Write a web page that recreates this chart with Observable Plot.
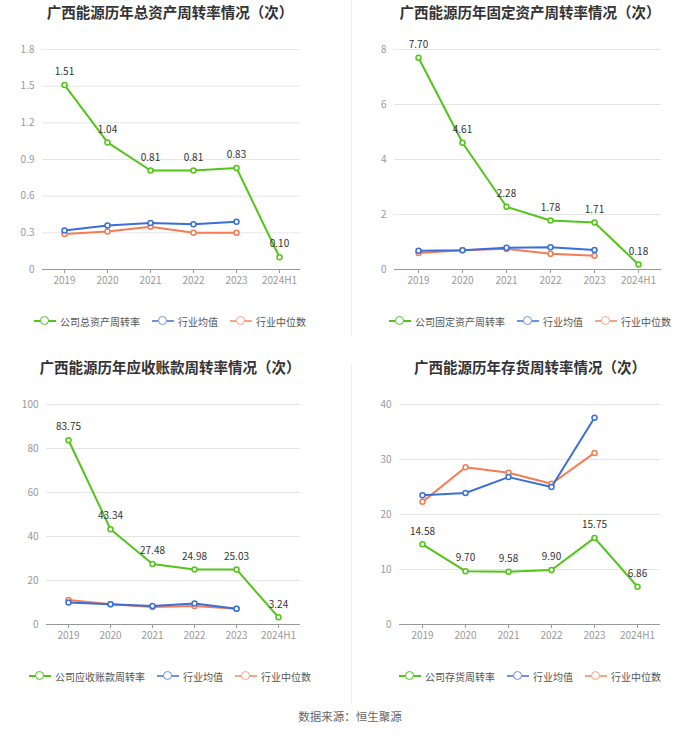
<!DOCTYPE html>
<html><head><meta charset="utf-8">
<script src="https://cdn.jsdelivr.net/npm/d3@7"></script>
<script src="https://cdn.jsdelivr.net/npm/@observablehq/plot@0.6"></script>
<style>
body{margin:0;background:#fff;font-family:"Noto Sans CJK SC","Noto Sans",sans-serif;}
#root{position:relative;width:700px;height:734px;overflow:hidden;}
.panel{position:absolute;width:340px;height:340px;}
.title{position:absolute;left:0;top:0;width:340px;height:24px;line-height:24px;text-align:center;font-size:14.5px;font-weight:bold;color:#333;white-space:nowrap;}
.chart{position:absolute;left:0;top:30px;}
.legend{position:absolute;left:0;top:313px;width:340px;height:16px;display:flex;justify-content:center;align-items:center;font-size:10px;color:#555;white-space:nowrap;}
.item{display:flex;align-items:center;margin:0 6px;}
.icon{position:relative;display:inline-block;width:22px;height:10px;margin-right:4px;}
.icon::before{content:"";position:absolute;left:0;top:4px;width:22px;height:2px;background:var(--c);}
.icon i{position:absolute;left:6px;top:0;width:7px;height:7px;border:1.5px solid var(--c);border-radius:50%;background:#fff;}
.sep{position:absolute;background:#f0f0f0;width:1px;left:351px;}
.caption{position:absolute;left:0;top:708px;width:700px;text-align:center;font-size:11.5px;color:#666;}
</style></head>
<body><div id="root"></div>
<script>
const years = ["2019","2020","2021","2022","2023","2024H1"];
const yearsInd = ["2019","2020","2021","2022","2023"];

// 总资产周转率
const totalCompany = [1.51, 1.04, 0.81, 0.81, 0.83, 0.10];
const totalAvg = [0.32, 0.36, 0.38, 0.37, 0.39];
const totalMedian = [0.29, 0.31, 0.35, 0.30, 0.30];
const totalTicks = [0, 0.3, 0.6, 0.9, 1.2, 1.5, 1.8];

// 固定资产周转率
const fixedCompany = [7.70, 4.61, 2.28, 1.78, 1.71, 0.18];
const fixedAvg = [0.68, 0.70, 0.79, 0.81, 0.71];
const fixedMedian = [0.60, 0.70, 0.75, 0.57, 0.50];
const fixedTicks = [0, 2, 4, 6, 8];

// 应收账款周转率
const arCompany = [83.75, 43.34, 27.48, 24.98, 25.03, 3.24];
const arAvg = [10.0, 9.2, 8.4, 9.5, 7.2];
const arMedian = [11.1, 9.2, 8.0, 8.4, 7.2];
const arTicks = [0, 20, 40, 60, 80, 100];

// 存货周转率
const invCompany = [14.58, 9.70, 9.58, 9.90, 15.75, 6.86];
const invAvg = [23.5, 23.9, 26.8, 25.0, 37.6];
const invMedian = [22.3, 28.6, 27.6, 25.6, 31.2];
const invTicks = [0, 10, 20, 30, 40];

const GREEN = "#52c41a", BLUE = "#3a6fd8", ORANGE = "#f47c54";
const fmt2 = d3.format(".2f");

const panels = [
  {left:0, top:0, title:"广西能源历年总资产周转率情况（次）", legend:"公司总资产周转率",
   company: totalCompany, avg: totalAvg, median: totalMedian, ticks: totalTicks, ml:42, mr:40},
  {left:360, top:0, title:"广西能源历年固定资产周转率情况（次）", legend:"公司固定资产周转率",
   company: fixedCompany, avg: fixedAvg, median: fixedMedian, ticks: fixedTicks, ml:34, mr:39},
  {left:0, top:355, title:"广西能源历年应收账款周转率情况（次）", legend:"公司应收账款周转率",
   company: arCompany, avg: arAvg, median: arMedian, ticks: arTicks, ml:46, mr:40},
  {left:360, top:355, title:"广西能源历年存货周转率情况（次）", legend:"公司存货周转率",
   company: invCompany, avg: invAvg, median: invMedian, ticks: invTicks, ml:39, mr:40}
];

const root = document.getElementById("root");

for (const p of panels) {
  const div = document.createElement("div");
  div.className = "panel";
  div.style.left = p.left + "px";
  div.style.top = p.top + "px";
  const t = document.createElement("div");
  t.className = "title"; t.textContent = p.title;
  div.appendChild(t);

  const comp = years.map((x, i) => ({x, y: p.company[i]}));
  const avg = yearsInd.map((x, i) => ({x, y: p.avg[i]}));
  const med = yearsInd.map((x, i) => ({x, y: p.median[i]}));
  const ymax = p.ticks[p.ticks.length - 1];

  const chart = Plot.plot({
    width: 340, height: 270,
    marginTop: 19, marginBottom: 31, marginLeft: p.ml, marginRight: p.mr,
    style: {fontFamily: '"Noto Sans CJK SC","Noto Sans",sans-serif', fontSize: "10px", color: "#999", background: "transparent", overflow: "visible"},
    x: {type: "point", domain: years, padding: 0.5, label: null},
    y: {domain: [0, ymax], label: null},
    marks: [
      Plot.gridY(p.ticks, {stroke: "#e6e6e6", strokeOpacity: 1}),
      Plot.axisY(p.ticks, {tickSize: 0, tickPadding: 8, fill: "#999", tickFormat: d => String(d), label: null}),
      Plot.axisX({tickSize: 4, tickPadding: 3, stroke: "#999", fill: "#999", label: null}),
      Plot.ruleY([0], {stroke: "#999"}),
      Plot.line(med, {x: "x", y: "y", stroke: ORANGE, strokeWidth: 2}),
      Plot.dot(med, {x: "x", y: "y", r: 2.5, fill: "#fff", stroke: ORANGE, strokeWidth: 1.5}),
      Plot.line(avg, {x: "x", y: "y", stroke: BLUE, strokeWidth: 2}),
      Plot.dot(avg, {x: "x", y: "y", r: 2.5, fill: "#fff", stroke: BLUE, strokeWidth: 1.5}),
      Plot.line(comp, {x: "x", y: "y", stroke: GREEN, strokeWidth: 2}),
      Plot.dot(comp, {x: "x", y: "y", r: 2.5, fill: "#fff", stroke: GREEN, strokeWidth: 1.5}),
      Plot.text(comp, {x: "x", y: "y", text: d => fmt2(d.y), dy: -13, fill: "#333", fontSize: 10})
    ]
  });
  chart.classList.add("chart");
  div.appendChild(chart);

  const lg = document.createElement("div");
  lg.className = "legend";
  const items = [[p.legend, GREEN], ["行业均值", "#6f93e0"], ["行业中位数", "#f5a488"]];
  for (const [name, c] of items) {
    const it = document.createElement("span");
    it.className = "item";
    const ic = document.createElement("span");
    ic.className = "icon"; ic.style.setProperty("--c", c);
    ic.appendChild(document.createElement("i"));
    it.appendChild(ic);
    it.appendChild(document.createTextNode(name));
    lg.appendChild(it);
  }
  div.appendChild(lg);
  root.appendChild(div);
}

const s1 = document.createElement("div"); s1.className = "sep"; s1.style.top = "0px"; s1.style.height = "336px"; root.appendChild(s1);
const s2 = document.createElement("div"); s2.className = "sep"; s2.style.top = "364px"; s2.style.height = "340px"; root.appendChild(s2);

const cap = document.createElement("div");
cap.className = "caption"; cap.textContent = "数据来源：恒生聚源";
root.appendChild(cap);
</script>
</body></html>
